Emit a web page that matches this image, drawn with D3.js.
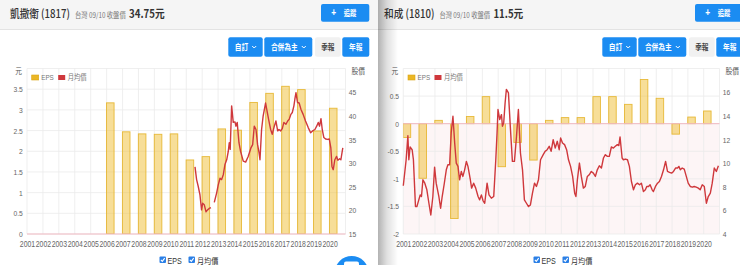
<!DOCTYPE html>
<html><head><meta charset="utf-8">
<script src="https://cdn.jsdelivr.net/npm/d3@7"></script>
<style>
body{margin:0;background:#fff;overflow:hidden}
svg{display:block;font-family:"Liberation Sans","Noto Sans CJK TC",sans-serif}
.cjk{font-family:"Noto Sans CJK TC","Liberation Sans",sans-serif}
</style></head><body>
<svg id="c" width="740" height="265"></svg>
<script>
// ---------------- data ----------------
const years = [2001,2002,2003,2004,2005,2006,2007,2008,2009,2010,2011,2012,2013,2014,2015,2016,2017,2018,2019,2020];
const seriesNames = ["EPS","月均價"];
const stockNames = ["凱撒衛","和成"];
const stockCodes = ["1817","1810"];
const closePrices = ["34.75","11.5"];
const eps1817 = [null,null,null,null,null,3.17,2.47,2.42,2.41,2.42,1.79,1.87,2.54,2.51,3.18,3.40,3.57,3.49,2.49,3.04];
const eps1810 = [-0.25,-0.99,0.06,-1.72,0.13,0.49,-0.78,-0.34,-0.66,0.06,0.11,0.11,0.49,0.49,0.35,0.80,0.46,-0.19,0.12,0.23];
const priceT1817 = [2011.55,2011.65,2011.75,2011.86,2011.96,2012.03,2012.13,2012.24,2012.34,2012.44,2012.55,2012.65,2012.76,2012.91,2013.01,2013.12,2013.22,2013.33,2013.43,2013.54,2013.64,2013.70,2013.76,2013.85,2013.95,2014.06,2014.12,2014.20,2014.31,2014.41,2014.58,2014.73,2014.89,2015.06,2015.17,2015.27,2015.38,2015.48,2015.57,2015.63,2015.73,2015.83,2015.98,2016.09,2016.19,2016.30,2016.40,2016.53,2016.63,2016.74,2016.82,2016.93,2017.03,2017.13,2017.26,2017.37,2017.47,2017.57,2017.66,2017.76,2017.82,2017.89,2017.99,2018.09,2018.20,2018.34,2018.49,2018.66,2018.81,2018.93,2019.08,2019.19,2019.29,2019.37,2019.46,2019.54,2019.64,2019.75,2019.88,2019.98,2020.08,2020.15,2020.23,2020.33,2020.44,2020.52,2020.63,2020.71,2020.83];
const price1817 = [29.2,26.5,25.1,23.3,20.1,21.5,21.2,19.7,20.1,20.4,20.6,null,21.7,23.7,25.4,26.8,26.5,27.6,29.7,30.7,32.5,34.3,32.9,42.1,38.6,38.7,37.8,38.6,34.3,32.5,30.4,30.2,31.4,33.2,33.9,37.8,37.1,33.9,32.2,30.7,37.1,40.0,42.7,40.7,38.9,37.1,36.1,37.8,38.9,36.8,37.1,36.8,37.3,38.6,38.2,38.9,39.3,40.3,40.7,42.1,43.5,44.9,42.8,42.7,41.4,40.3,38.9,37.5,36.4,36.8,37.1,37.8,38.6,37.8,39.4,37.1,35.4,35.1,35.0,35.1,33.2,29.3,28.6,30.7,31.4,30.6,30.9,30.7,33.2];
const priceT1810 = [2001.0,2001.18,2001.29,2001.35,2001.43,2001.56,2001.64,2001.77,2001.86,2001.98,2002.07,2002.15,2002.24,2002.36,2002.49,2002.62,2002.74,2002.87,2002.98,2003.08,2003.25,2003.36,2003.46,2003.59,2003.72,2003.82,2003.93,2004.03,2004.14,2004.25,2004.35,2004.46,2004.56,2004.67,2004.77,2004.88,2004.99,2005.09,2005.24,2005.32,2005.45,2005.58,2005.73,2005.83,2005.94,2006.04,2006.15,2006.30,2006.42,2006.57,2006.72,2006.85,2006.93,2006.99,2007.10,2007.21,2007.27,2007.35,2007.44,2007.52,2007.65,2007.78,2007.90,2008.03,2008.16,2008.28,2008.41,2008.54,2008.66,2008.79,2008.92,2009.04,2009.17,2009.30,2009.42,2009.55,2009.68,2009.85,2009.97,2010.10,2010.23,2010.35,2010.48,2010.61,2010.74,2010.86,2010.95,2011.07,2011.20,2011.33,2011.45,2011.58,2011.71,2011.84,2011.92,2012.01,2012.14,2012.26,2012.39,2012.51,2012.64,2012.76,2012.89,2013.02,2013.15,2013.27,2013.40,2013.53,2013.66,2013.78,2013.91,2014.03,2014.16,2014.29,2014.41,2014.54,2014.63,2014.71,2014.84,2014.92,2015.05,2015.18,2015.30,2015.43,2015.56,2015.68,2015.81,2015.94,2016.06,2016.19,2016.31,2016.40,2016.51,2016.61,2016.74,2016.82,2016.95,2017.08,2017.20,2017.33,2017.46,2017.59,2017.71,2017.84,2017.97,2018.09,2018.22,2018.35,2018.43,2018.52,2018.64,2018.77,2018.90,2019.02,2019.15,2019.28,2019.40,2019.53,2019.66,2019.78,2019.91,2020.04,2020.17,2020.29,2020.42,2020.54,2020.67,2020.80,2020.93];
const price1810 = [8.08,10.28,12.32,10.28,11.36,11.13,10.28,6.32,6.32,6.89,7.31,7.17,8.59,8.30,7.74,6.60,5.61,7.17,9.66,8.30,7.17,6.18,7.17,8.25,9.43,9.86,9.86,12.55,13.96,11.70,10.0,9.72,8.59,9.29,8.87,9.43,10.14,9.72,8.59,7.88,8.30,7.88,7.17,6.89,7.31,6.83,6.60,8.30,7.31,7.03,7.17,10.28,12.55,14.53,13.68,14.10,13.11,13.40,15.10,16.23,15.94,12.83,10.14,10.14,12.26,14.53,10.85,9.43,6.89,6.60,6.32,6.46,7.45,8.30,8.02,8.59,10.28,10.71,10.99,11.13,11.42,10.99,11.98,11.27,11.84,11.13,12.12,11.70,11.56,11.13,10.28,9.72,8.87,7.45,7.17,8.59,10.0,8.87,7.88,8.02,8.87,9.01,9.29,9.15,8.87,9.43,9.77,9.58,10.43,10.71,10.57,10.57,11.36,11.27,11.42,11.56,11.48,12.21,10.43,10.28,10.34,10.28,9.72,8.44,7.74,8.16,8.30,8.16,8.30,7.59,7.74,8.02,8.02,8.16,7.74,7.59,8.02,8.30,8.44,8.87,9.43,10.14,9.29,9.21,9.15,9.29,9.58,9.58,9.72,9.43,9.58,9.49,8.87,8.30,8.02,7.96,8.02,7.96,7.88,7.74,8.16,8.02,6.60,7.17,7.45,8.30,9.58,9.29,9.77];
const epsTicks1817 = [0,0.5,1,1.5,2,2.5,3,3.5];
const priceTicks1817 = [15,20,25,30,35,40,45];
const epsTicks1810 = [-2,-1.5,-1,-0.5,0,0.5];
const priceTicks1810 = [4,6,8,10,12,14,16];

// ---------------- drawing ----------------
const SX = 0.84;
const svg = d3.select('#c');
const defs = svg.append('defs');
const grad = defs.append('linearGradient').attr('id','shadow').attr('x1','0').attr('x2','1');
grad.append('stop').attr('offset','0').attr('stop-color','#000').attr('stop-opacity',0.3);
grad.append('stop').attr('offset','0.45').attr('stop-color','#000').attr('stop-opacity',0.12);
grad.append('stop').attr('offset','1').attr('stop-color','#000').attr('stop-opacity',0);

const BLUE = '#1b8cf2';
const plotTop = 68.5, plotBottom = 234, plotRight = 345.5;

function stxt(g, x, y, s, size, fill, opts={}){
  const t = g.append('text').attr('transform',`translate(${x},${y}) scale(${SX},1)`)
    .attr('font-size',size).attr('fill',fill).text(s);
  if(opts.anchor) t.attr('text-anchor',opts.anchor);
  if(opts.weight) t.attr('font-weight',opts.weight);
  if(opts.cls) t.attr('class',opts.cls);
  return t;
}
function chevron(g, x, y){
  g.append('path').attr('d',`M${x-2},${y-1} L${x},${y+1} L${x+2},${y-1}`)
   .attr('fill','none').attr('stroke','#fff').attr('stroke-width',1);
}
function button(g, x0, x1, y0, y1, label, blue, chev){
  g.append('rect').attr('x',x0).attr('y',y0).attr('width',x1-x0).attr('height',y1-y0).attr('rx',2)
   .attr('fill', blue ? BLUE : '#f1f1f1');
  const cx = chev ? (x0+x1)/2-4 : (x0+x1)/2;
  stxt(g, cx, (y0+y1)/2+2.8, label, 8, blue ? '#fff' : '#444', {anchor:'middle', weight:700, cls:'cjk'});
  if(chev) chevron(g, x1-8.5, (y0+y1)/2);
}
function checkbox(g, x, y){
  g.append('rect').attr('x',x).attr('y',y).attr('width',6.5).attr('height',6.5).attr('rx',1).attr('fill','#2a7fe6');
  g.append('path').attr('d',`M${x+1.4},${y+3.3} L${x+2.8},${y+4.8} L${x+5.2},${y+1.6}`)
   .attr('fill','none').attr('stroke','#fff').attr('stroke-width',1.1);
}

function panel(g, P){
  g.append('rect').attr('x',0).attr('y',0).attr('width',380).attr('height',265).attr('fill','#fff');
  g.append('rect').attr('x',0).attr('y',0).attr('width',380).attr('height',29).attr('fill','#f5f5f5');
  g.append('line').attr('x1',0).attr('x2',380).attr('y1',29.5).attr('y2',29.5).attr('stroke','#e3e3e3');

  // header
  const t = g.append('text').attr('class','cjk').attr('transform',`translate(10,18) scale(${SX},1)`);
  t.append('tspan').text(`${P.name} (${P.code})`).attr('font-size',11.5).attr('font-weight',500).attr('fill','#333');
  t.append('tspan').attr('dx',6).text('台灣 09/10 收盤價').attr('font-size',7.5).attr('fill','#777');
  t.append('tspan').attr('dx',4).text(P.close+'元').attr('font-size',11.5).attr('font-weight',700).attr('fill','#333');

  g.append('rect').attr('x',321).attr('y',4).attr('width',48.3).attr('height',17.7).attr('rx',2).attr('fill',BLUE);
  stxt(g, 333.6, 15.8, '+', 10, '#fff', {anchor:'middle', weight:700});
  stxt(g, 350, 15.6, '追蹤', 7.5, '#fff', {anchor:'middle', weight:700, cls:'cjk'});

  button(g, 228.3, 262.7, 37.3, 56.7, '自訂', true, true);
  button(g, 264.3, 312.3, 37.3, 56.7, '合併為主', true, true);
  button(g, 315, 340.7, 37.3, 56.7, '季報', false, false);
  button(g, 342.3, 369.3, 37.3, 56.7, '年報', true, false);

  // scales
  const x = d3.scaleLinear().domain([2001, 2021]).range([P.plotLeft, plotRight]);
  const yL = d3.scaleLinear().domain(P.epsDomain).range([plotBottom, plotTop]);
  const yR = d3.scaleLinear().domain(P.priceDomain).range([plotBottom, plotTop]);

  // negative zone tint
  if (P.epsDomain[0] < 0)
    g.append('rect').attr('x',P.plotLeft).attr('y',yL(0)).attr('width',plotRight-P.plotLeft)
     .attr('height',plotBottom-yL(0)).attr('fill','#fdf5f6');

  // grid
  const grid = g.append('g').attr('stroke','#ebebeb').attr('stroke-width',0.8);
  grid.selectAll('.h').data(P.epsTicks.concat([P.epsDomain[1]])).join('line')
    .attr('x1',P.plotLeft).attr('x2',plotRight).attr('y1',d=>yL(d)).attr('y2',d=>yL(d));
  grid.selectAll('.v').data(years.concat([2021])).join('line')
    .attr('x1',d=>x(d)).attr('x2',d=>x(d)).attr('y1',plotTop).attr('y2',plotBottom);

  // bars
  const clipId = 'clip'+P.code;
  g.append('clipPath').attr('id',clipId).append('rect')
   .attr('x',P.plotLeft).attr('y',plotTop).attr('width',plotRight-P.plotLeft).attr('height',plotBottom-plotTop);
  const bars = years.map((yr,i)=>({yr, v:P.eps[i]})).filter(d=>d.v!=null);
  g.append('g').attr('clip-path',`url(#${clipId})`).selectAll('rect').data(bars).join('rect')
    .attr('x',d=>x(d.yr-0.04)+0.5).attr('width',d=>x(d.yr+0.5)-x(d.yr-0.04)-1)
    .attr('y',d=>Math.min(yL(d.v),yL(0))).attr('height',d=>Math.abs(yL(d.v)-yL(0)))
    .attr('fill','rgba(240,190,50,0.5)').attr('stroke','rgba(228,176,30,0.85)').attr('stroke-width',0.9);

  // zero line
  g.append('line').attr('x1',P.plotLeft).attr('x2',plotRight).attr('y1',yL(0)).attr('y2',yL(0))
   .attr('stroke','#f1b9c2').attr('stroke-width',1);

  // price line
  const pts = P.priceT.map((t,i)=>[t, P.price[i]]);
  g.append('path').datum(pts)
    .attr('d', d3.line().defined(d=>d[1]!=null).x(d=>x(d[0])).y(d=>yR(d[1])))
    .attr('fill','none').attr('stroke','#cf383c').attr('stroke-width',1.4).attr('stroke-linejoin','round');

  // axes
  const axL = g.append('g').attr('transform',`translate(${P.plotLeft},0)`)
    .call(d3.axisLeft(yL).tickValues(P.epsTicks).tickSize(0).tickPadding(5).tickFormat(d=>String(d)));
  const axR = g.append('g').attr('transform',`translate(${plotRight},0)`)
    .call(d3.axisRight(yR).tickValues(P.priceTicks).tickSize(0).tickPadding(4).tickFormat(d=>String(d)));
  const axB = g.append('g').attr('transform',`translate(0,${plotBottom})`)
    .call(d3.axisBottom(x).tickValues(years).tickSize(0).tickPadding(7).tickFormat(d3.format('d')));
  [axL,axR,axB].forEach(a=>{
    a.select('.domain').remove();
    a.selectAll('text').attr('font-size',8).attr('fill','#666')
      .attr('font-family','"Liberation Sans",sans-serif')
      .attr('transform',`scale(${SX},1)`);
  });
  axB.selectAll('text').attr('font-size',8.6).attr('transform',`scale(0.8,1)`);

  stxt(g, P.plotLeft-5, 74, '元', 8, '#555', {anchor:'end', cls:'cjk'});
  stxt(g, plotRight+6, 74, '股價', 8, '#555', {cls:'cjk'});

  // inner legend
  const lg = g.append('g').attr('transform',`translate(${P.plotLeft+4.7},75)`);
  lg.append('rect').attr('width',7).attr('height',5).attr('fill','#ebb725').attr('stroke','#d9a515').attr('stroke-width',0.6);
  stxt(lg, 9.5, 5, seriesNames[0], 7.5, '#777');
  lg.append('rect').attr('x',26.5).attr('width',7).attr('height',5).attr('fill','#cf383c');
  stxt(lg, 36, 5, seriesNames[1], 7.5, '#777', {cls:'cjk'});

  // bottom legend
  checkbox(g, 159.5, 256.5);
  stxt(g, 167.5, 263.5, seriesNames[0], 8.5, '#333');
  checkbox(g, 188.5, 256.5);
  stxt(g, 197, 263.5, seriesNames[1], 8.5, '#333', {cls:'cjk'});
}

const left = svg.append('g');
panel(left, {name:stockNames[0], code:stockCodes[0], close:closePrices[0], eps:eps1817,
  priceT:priceT1817, price:price1817, epsDomain:[0,4], priceDomain:[15,50],
  epsTicks:epsTicks1817, priceTicks:priceTicks1817, plotLeft:27});
// floating action button
left.append('circle').attr('cx',351.7).attr('cy',273).attr('r',17).attr('fill',BLUE);
left.append('rect').attr('x',344).attr('y',261.5).attr('width',15).attr('height',6).attr('rx',2).attr('fill','#fff');

const rightClip = defs.append('clipPath').attr('id','rclip');
rightClip.append('rect').attr('x',4).attr('y',0).attr('width',370).attr('height',265);
const right = svg.append('g').attr('transform','translate(374,0)').append('g').attr('clip-path','url(#rclip)');
panel(right, {name:stockNames[1], code:stockCodes[1], close:closePrices[1], eps:eps1810,
  priceT:priceT1810, price:price1810, epsDomain:[-2,1], priceDomain:[4,18],
  epsTicks:epsTicks1810, priceTicks:priceTicks1810, plotLeft:29.3});
svg.append('rect').attr('x',378).attr('y',0).attr('width',20).attr('height',265).attr('fill','url(#shadow)');
</script>
</body></html>
